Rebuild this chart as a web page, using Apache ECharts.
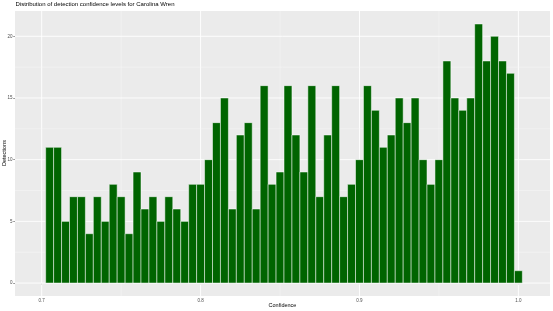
<!DOCTYPE html>
<html>
<head>
<meta charset="utf-8">
<script src="https://cdn.jsdelivr.net/npm/echarts@6/dist/echarts.min.js"></script>
<style>
html,body{margin:0;padding:0;background:#fff;}
#chart{width:553px;height:311px;}
</style>
</head>
<body>
<div id="chart"></div>
<script>
// Histogram bins (centers, binwidth 0.005)
const binCenters = [
  0.705,0.710,0.715,0.720,0.725,0.730,0.735,0.740,0.745,0.750,
  0.755,0.760,0.765,0.770,0.775,0.780,0.785,0.790,0.795,0.800,
  0.805,0.810,0.815,0.820,0.825,0.830,0.835,0.840,0.845,0.850,
  0.855,0.860,0.865,0.870,0.875,0.880,0.885,0.890,0.895,0.900,
  0.905,0.910,0.915,0.920,0.925,0.930,0.935,0.940,0.945,0.950,
  0.955,0.960,0.965,0.970,0.975,0.980,0.985,0.990,0.995,1.000
];
const binWidth = 0.005;
const detections = [
  11,11,5,7,7,4,7,5,8,7,
  4,9,6,7,5,7,6,5,8,8,
  10,13,15,6,12,13,6,16,8,9,
  16,12,9,16,7,12,16,7,8,10,
  16,14,11,12,15,13,15,10,8,10,
  18,15,14,15,21,18,20,18,17,1
];
const xMajorTicks = [0.7, 0.8, 0.9, 1.0];
const xMinorBreaks = [0.75, 0.85, 0.95];
const yMajorTicks = [0, 5, 10, 15, 20];
const yMinorBreaks = [2.5, 7.5, 12.5, 17.5];
const titleText = 'Distribution of detection confidence levels for Carolina Wren';
const xTitle = 'Confidence';
const yTitle = 'Detections';

const chart = echarts.init(document.getElementById('chart'), null, {renderer: 'canvas'});

const gridData = [];
xMajorTicks.forEach(v => gridData.push([v, 0, 1]));
xMinorBreaks.forEach(v => gridData.push([v, 0, 0]));
yMajorTicks.forEach(v => gridData.push([0, v, 3]));
yMinorBreaks.forEach(v => gridData.push([0, v, 2]));

const barData = binCenters.map((c, i) => [c, detections[i]]);

const FONT = 'Liberation Sans';

chart.setOption({
  animation: false,
  textStyle: {fontFamily: FONT},
  title: {
    text: titleText,
    left: 15.5, top: 1.8,
    padding: 0,
    textStyle: {fontSize: 6, fontWeight: 'normal', color: '#000', fontFamily: FONT}
  },
  graphic: [
    {
      type: 'text', x: 282.5, y: 305.2, silent: true,
      style: {text: xTitle, fontSize: 5.5, fontFamily: FONT, fill: '#000', align: 'center', verticalAlign: 'middle'}
    },
    {
      type: 'text', x: 4.3, y: 153, rotation: Math.PI / 2, silent: true,
      style: {text: yTitle, fontSize: 5.5, fontFamily: FONT, fill: '#000', align: 'center', verticalAlign: 'middle'}
    }
  ],
  grid: {
    left: 15, right: 3, top: 11, bottom: 15,
    outerBoundsMode: 'none',
    containLabel: false,
    show: true, backgroundColor: '#EBEBEB', borderWidth: 0
  },
  xAxis: {
    type: 'value',
    min: 0.6832, max: 1.0199,
    axisLine: {show: false},
    axisTick: {show: true, length: 1.8, lineStyle: {color: '#333', width: 0.5}, customValues: xMajorTicks},
    axisLabel: {customValues: xMajorTicks, fontSize: 4.5, color: '#4D4D4D', margin: 2.2,
      formatter: v => v.toFixed(1)},
    splitLine: {show: false}
  },
  yAxis: {
    type: 'value',
    min: -1.05, max: 22.05,
    axisLine: {show: false},
    axisTick: {show: true, length: 1.8, lineStyle: {color: '#333', width: 0.5}, customValues: yMajorTicks},
    axisLabel: {customValues: yMajorTicks, fontSize: 4.5, color: '#4D4D4D', margin: 2.5},
    splitLine: {show: false}
  },
  series: [
    {
      type: 'custom',
      z: 1,
      silent: true,
      data: gridData,
      clip: true,
      renderItem: function (params, api) {
        const cs = params.coordSys;
        const kind = api.value(2);
        let shape;
        if (kind <= 1) {
          const x = api.coord([api.value(0), 0])[0];
          shape = {x1: x, y1: cs.y, x2: x, y2: cs.y + cs.height};
        } else {
          const y = api.coord([0.8, api.value(1)])[1];
          shape = {x1: cs.x, y1: y, x2: cs.x + cs.width, y2: y};
        }
        const major = (kind === 1 || kind === 3);
        return {
          type: 'line',
          shape: shape,
          style: {stroke: major ? '#FFFFFF' : '#F6F6F6', lineWidth: major ? 0.9 : 0.5}
        };
      }
    },
    {
      type: 'custom',
      z: 2,
      data: barData,
      renderItem: function (params, api) {
        const c = api.value(0);
        const v = api.value(1);
        const p0 = api.coord([c - binWidth / 2, v]);
        const p1 = api.coord([c + binWidth / 2, 0]);
        return {
          type: 'rect',
          shape: {x: p0[0], y: p0[1], width: p1[0] - p0[0], height: p1[1] - p0[1]},
          style: {fill: '#006400', stroke: '#FFFFFF', lineWidth: 0.5}
        };
      }
    }
  ]
});
</script>
</body>
</html>
